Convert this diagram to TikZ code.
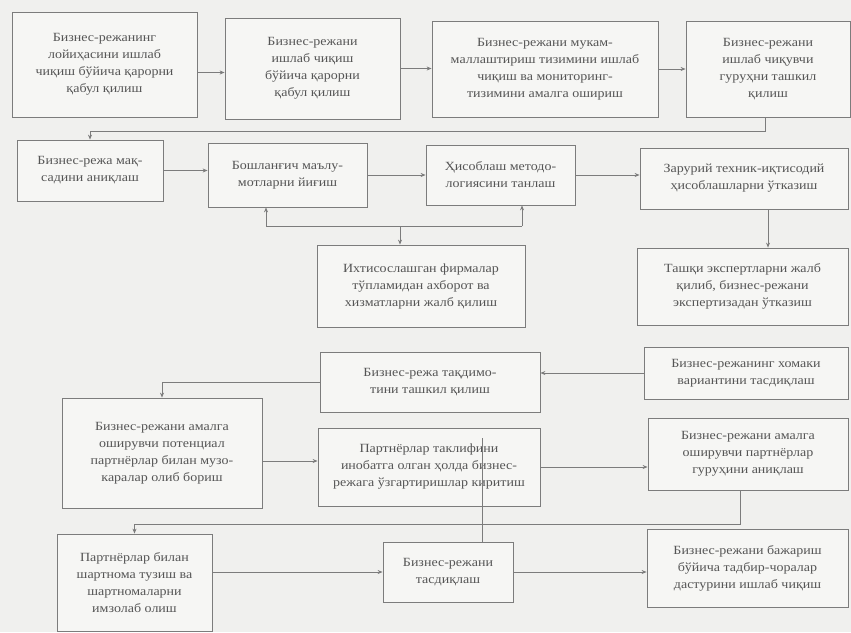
\documentclass[tikz,border=0pt]{standalone}
\usepackage{fontspec}
\setmainfont{Liberation Serif}[FakeStretch=1.12]
\usetikzlibrary{arrows.meta}
\definecolor{paper}{HTML}{F0F0EE}
\definecolor{boxfill}{HTML}{F6F6F4}
\definecolor{ink}{HTML}{555555}
\definecolor{wire}{HTML}{7C7C7C}
\tikzset{
  stage/.style={draw=wire, line width=0.8pt, fill=boxfill, text=ink,
    align=center, inner sep=2pt, font=\fontsize{12.5}{17}\selectfont},
  arr/.style={draw=wire, line width=0.8pt, -{Stealth[length=5pt,width=4pt]}},
  wirel/.style={draw=wire, line width=0.8pt}
}
\begin{document}
\begin{tikzpicture}[x=1pt,y=-1pt]
\fill[paper] (0,0) rectangle (851,632);
\useasboundingbox (0,0) rectangle (851,632);
% first row: the decision and the team
\node[stage, minimum width=185, minimum height=105] (start) at (104.5,64.5)
  {Бизнес-режанинг\\лойиҳасини ишлаб\\чиқиш бўйича қарорни\\қабул қилиш};
\node[stage, minimum width=175, minimum height=101] (accept) at (312.5,68.5)
  {Бизнес-режани\\ишлаб чиқиш\\бўйича қарорни\\қабул қилиш};
\node[stage, minimum width=226, minimum height=96] (monitor) at (545,69)
  {Бизнес-режани мукам-\\маллаштириш тизимини ишлаб\\чиқиш ва мониторинг-\\тизимини амалга ошириш};
\node[stage, minimum width=164, minimum height=96] (team) at (768,69)
  {Бизнес-режани\\ишлаб чиқувчи\\гуруҳни ташкил\\қилиш};
% second row: goal, data, method, calculations
\node[stage, minimum width=146, minimum height=61] (goal) at (90,170.5)
  {Бизнес-режа мақ-\\садини аниқлаш};
\node[stage, minimum width=159, minimum height=64] (data) at (287.5,175)
  {Бошланғич маълу-\\мотларни йиғиш};
\node[stage, minimum width=149, minimum height=60] (method) at (500.5,175)
  {Ҳисоблаш методо-\\логиясини танлаш};
\node[stage, minimum width=208, minimum height=61] (calc) at (744,178.5)
  {Зарурий техник-иқтисодий\\ҳисоблашларни ўтказиш};
\node[stage, minimum width=208, minimum height=82] (firms) at (421,286)
  {Ихтисослашган фирмалар\\тўпламидан ахборот ва\\хизматларни жалб қилиш};
\node[stage, minimum width=211, minimum height=77] (expert) at (742.5,286.5)
  {Ташқи экспертларни жалб\\қилиб, бизнес-режани\\экспертизадан ўтказиш};
% lower half: draft, partners, approval
\node[stage, minimum width=204, minimum height=52] (draft) at (746,373)
  {Бизнес-режанинг хомаки\\вариантини тасдиқлаш};
\node[stage, minimum width=220, minimum height=60] (present) at (430,382)
  {Бизнес-режа тақдимо-\\тини ташкил қилиш};
\node[stage, minimum width=200, minimum height=110] (talks) at (162,453)
  {Бизнес-режани амалга\\оширувчи потенциал\\партнёрлар билан музо-\\каралар олиб бориш};
\node[stage, minimum width=222, minimum height=78] (amend) at (429,467)
  {Партнёрлар таклифини\\инобатга олган ҳолда бизнес-\\режага ўзгартиришлар киритиш};
\node[stage, minimum width=200, minimum height=72] (partners) at (748,454)
  {Бизнес-режани амалга\\оширувчи партнёрлар\\гуруҳини аниқлаш};
\node[stage, minimum width=155, minimum height=97] (contract) at (134.5,582.5)
  {Партнёрлар билан\\шартнома тузиш ва\\шартномаларни\\имзолаб олиш};
\node[stage, minimum width=130, minimum height=60] (approve) at (448,572)
  {Бизнес-режани\\тасдиқлаш};
\node[stage, minimum width=201, minimum height=78] (measures) at (747.5,568)
  {Бизнес-режани бажариш\\бўйича тадбир-чоралар\\дастурини ишлаб чиқиш};
% turning points of the long connectors
\coordinate (turn1) at (765,131);
\coordinate (fbl) at (266,226);
\coordinate (fbr) at (522,226);
\coordinate (fb) at (400,226);
\coordinate (turn2) at (740,524);
\coordinate (tap) at (482,438);
% connectors
\draw[arr] ([yshift=-8pt]start.east) -- ([yshift=-8pt]start.east -| accept.west);
\draw[arr] (accept.east) -- (accept.east -| monitor.west);
\draw[arr] (monitor.east) -- (monitor.east -| team.west);
\draw[arr] (team.south -| turn1) -- (turn1) -| (goal.north);
\draw[arr] (goal.east) -- (goal.east -| data.west);
\draw[arr] (data.east) -- (data.east -| method.west);
\draw[arr] (method.east) -- (method.east -| calc.west);
\draw[wirel] (fbl) -- (fbr);
\draw[arr] (fbl) -- (fbl |- data.south);
\draw[arr] (fbr) -- (fbr |- method.south);
\draw[arr] (fb) -- (fb |- firms.north);
\draw[arr] ([xshift=24pt]calc.south) -- ([xshift=24pt]calc.south |- expert.north);
\draw[arr] (draft.west) -- (draft.west -| present.east);
\draw[arr] (present.west) -| (talks.north);
\draw[arr] ([yshift=-8pt]talks.east) -- ([yshift=-8pt]talks.east -| amend.west);
\draw[arr] (amend.east) -- (amend.east -| partners.west);
\draw[arr] (partners.south -| turn2) -- (turn2) -| (contract.north);
\draw[wirel] (tap) -- (tap |- approve.north);
\draw[arr] (contract.east |- approve) -- (approve.west);
\draw[arr] (approve.east) -- (approve.east -| measures.west);
\end{tikzpicture}
\end{document}
